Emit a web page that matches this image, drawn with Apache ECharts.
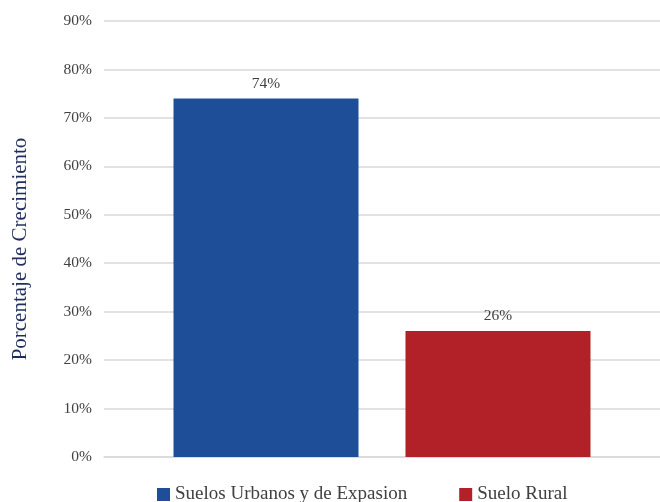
<!DOCTYPE html>
<html>
<head>
<meta charset="utf-8">
<script src="https://cdn.jsdelivr.net/npm/echarts@6/dist/echarts.min.js"></script>
<style>
  html, body { margin: 0; padding: 0; background: #ffffff; }
  #chart { width: 660px; height: 502px; }
</style>
</head>
<body>
<div id="chart"></div>
<script>
// Growth share by land category
const categories = ['Crecimiento'];
const seriesNames = ['Suelos Urbanos y de Expasion', 'Suelo Rural'];
const urbanValues = [74];
const ruralValues = [26];
const yTicks = { min: 0, max: 90, interval: 10 };

const FONT = '"Liberation Serif", "DejaVu Serif", serif';
const TEXT = '#404040';

const chart = echarts.init(document.getElementById('chart'), null, { renderer: 'canvas' });

const labelStyle = {
  show: true,
  position: 'top',
  distance: 7,
  formatter: p => p.value + '%',
  color: TEXT,
  fontFamily: FONT,
  fontSize: 15.5
};

chart.setOption({
  backgroundColor: '#ffffff',
  animation: false,
  grid: { left: 104, right: 0, top: 21, bottom: 45, containLabel: false, outerBoundsMode: 'none' },
  legend: {
    top: 480,
    left: 152,
    itemWidth: 13,
    itemHeight: 13,
    itemGap: 52,
    icon: 'rect',
    textStyle: { color: TEXT, fontFamily: FONT, fontSize: 19 },
    data: seriesNames
  },
  xAxis: {
    type: 'category',
    data: categories,
    axisLine: { show: true, lineStyle: { color: '#d9d9d9', width: 1.5 } },
    axisTick: { show: false },
    axisLabel: { show: false }
  },
  yAxis: {
    type: 'value',
    min: yTicks.min,
    max: yTicks.max,
    interval: yTicks.interval,
    name: 'Porcentaje de Crecimiento',
    nameLocation: 'middle',
    nameGap: 73,
    nameTextStyle: { color: '#1f2d5c', fontFamily: FONT, fontSize: 21, padding: [0, 20, 0, 0] },
    axisLine: { show: false },
    axisTick: { show: false },
    axisLabel: {
      formatter: '{value}%',
      color: TEXT,
      fontFamily: FONT,
      fontSize: 15.5,
      margin: 12
    },
    splitLine: { lineStyle: { color: '#d9d9d9', width: 1.5 } }
  },
  series: [
    {
      name: seriesNames[0],
      type: 'bar',
      data: urbanValues,
      barWidth: 185,
      barGap: '25.4%',
      itemStyle: { color: '#1f4e98' },
      label: labelStyle
    },
    {
      name: seriesNames[1],
      type: 'bar',
      data: ruralValues,
      barWidth: 185,
      itemStyle: { color: '#b22127' },
      label: labelStyle
    }
  ]
});
</script>
</body>
</html>
